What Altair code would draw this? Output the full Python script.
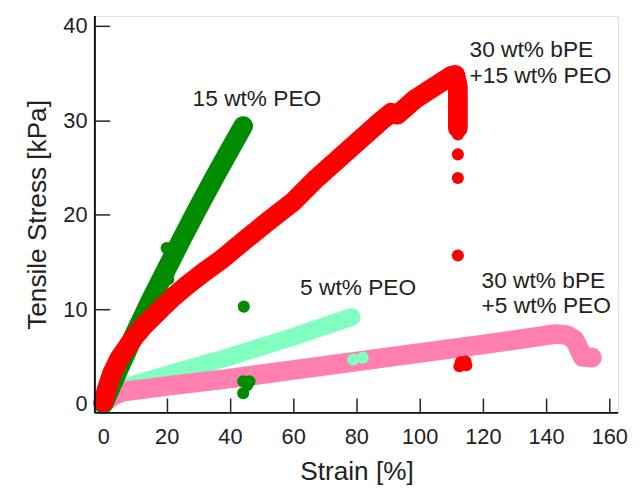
import altair as alt
import pandas as pd

# ---- data ----
green_x = [0, 5, 10, 15, 20, 25, 30, 35, 40, 44.2]
green_y = [0, 3.8, 7.5, 11.0, 14.3, 17.6, 20.8, 23.9, 26.9, 29.4]

red_x = [0, 1, 2.7, 5, 7.9, 10, 13.1, 18.3, 22, 26.6, 32, 37, 45, 52, 60, 67.5, 77.6, 88, 91, 93, 98.4, 106.7, 110, 111.3, 112.1, 112.1]
red_y = [0.2, 1.5, 3.2, 4.8, 6.2, 7.2, 8.4, 10.1, 11.3, 12.6, 14.0, 15.2, 17.4, 19.3, 21.4, 23.9, 26.9, 30.0, 30.8, 30.6, 32.2, 34.0, 34.7, 34.8, 33.5, 29.2]

mint_x = [0, 3, 6, 20, 40, 60, 78.5]
mint_y = [0.2, 1.2, 1.7, 3.1, 5.0, 7.1, 9.2]

pink_x = [0, 3, 6, 20, 40, 60, 80, 100, 120, 135, 143, 146.5, 149, 150.5, 151.5, 154.5]
pink_y = [0.1, 0.9, 1.3, 1.9, 2.7, 3.6, 4.5, 5.4, 6.3, 7.0, 7.4, 7.3, 6.8, 5.8, 5.0, 4.9]

# isolated points
pt_series = ["green", "green", "green", "green", "green", "green", "green",
             "red", "red", "red", "red", "red", "red", "red", "red",
             "mint", "mint"]
pt_x = [20, 20.5, 44.4, 44.2, 46.2, 44.2, 45.5,
        112.1, 112.1, 112.1, 112.1, 112.6, 114.5, 113.0, 114.8,
        79, 82]
pt_y = [16.5, 13.2, 10.3, 2.4, 2.4, 1.15, 2.0,
        28.5, 26.4, 23.9, 15.7, 4.0, 4.5, 4.4, 4.1,
        4.7, 4.9]

label_text = ["15 wt% PEO", "30 wt% bPE", "+15 wt% PEO", "5 wt% PEO", "30 wt% bPE", "+5 wt% PEO"]
label_x = [28.2, 115.8, 115.8, 62.2, 119.6, 119.6]
label_y = [32.2, 37.4, 34.7, 12.3, 13.0, 10.4]

x_ticks = [0, 20, 40, 60, 80, 100, 120, 140, 160]
y_ticks = [0, 10, 20, 30, 40]

colors = {"green": "#008c00", "red": "#ff0000", "mint": "#80ffc0", "pink": "#ff80b0"}
widths = {"green": 20, "red": 20, "mint": 18, "pink": 20}

W, H = 530, 402
xs = alt.Scale(domain=[-2.7, 162.8], nice=False, zero=False)
ys = alt.Scale(domain=[-0.94, 41.04], nice=False, zero=False)
FONT = "Liberation Sans"

xaxis = alt.Axis(values=x_ticks, title="Strain [%]", grid=False, domain=False,
                 offset=-15, tickSize=15, tickWidth=1.5, tickColor="#222",
                 labelFontSize=22, labelFont=FONT, labelColor="#222", labelPadding=14,
                 titleFontSize=26.5, titleFont=FONT, titleFontWeight="normal",
                 titleColor="#222", titlePadding=11)
yaxis = alt.Axis(values=y_ticks, title="Tensile Stress [kPa]", grid=False, domain=False,
                 offset=-15, tickSize=15, tickWidth=1.5, tickColor="#222",
                 labelFontSize=22, labelFont=FONT, labelColor="#222", labelPadding=8,
                 titleFontSize=26.5, titleFont=FONT, titleFontWeight="normal",
                 titleColor="#222", titlePadding=12)

X = lambda: alt.X("x:Q", scale=xs, axis=xaxis)
Y = lambda: alt.Y("y:Q", scale=ys, axis=yaxis)


def band(name, xv, yv):
    df = pd.DataFrame({"x": xv, "y": yv, "i": list(range(len(xv)))})
    return alt.Chart(df).mark_line(
        color=colors[name], strokeWidth=widths[name], strokeCap="round", strokeJoin="round"
    ).encode(x=X(), y=Y(), order="i:Q")


pts_df = pd.DataFrame({"x": pt_x, "y": pt_y, "s": pt_series})
points = alt.Chart(pts_df).mark_circle(size=150, opacity=1).encode(
    x=X(), y=Y(),
    color=alt.Color("s:N", scale=alt.Scale(domain=list(colors.keys()), range=list(colors.values())), legend=None),
)

lab_df = pd.DataFrame({"x": label_x, "y": label_y, "t": label_text})
labels = alt.Chart(lab_df).mark_text(
    align="left", baseline="middle", fontSize=23, font=FONT, color="#222"
).encode(x=X(), y=Y(), text="t:N")

edge_df = pd.DataFrame({"k": [0]})
left_edge = alt.Chart(edge_df).mark_rule(color="#111", strokeWidth=2).encode(
    x=alt.value(0), y=alt.value(0), y2=alt.value(H))
bottom_edge = alt.Chart(edge_df).mark_rule(color="#111", strokeWidth=2).encode(
    x=alt.value(0), x2=alt.value(W), y=alt.value(H))

chart = alt.layer(
    band("mint", mint_x, mint_y),
    band("pink", pink_x, pink_y),
    band("green", green_x, green_y),
    band("red", red_x, red_y),
    points,
    labels,
    left_edge,
    bottom_edge,
).properties(
    width=W, height=H,
    autosize=alt.AutoSizeParams(type="none"),
    padding={"left": 88, "top": 5, "right": 14, "bottom": 73},
).configure_view(stroke="#555", strokeWidth=1.5).configure(background="white")

chart.save("out.html", embed_options={"renderer": "svg", "actions": False})
